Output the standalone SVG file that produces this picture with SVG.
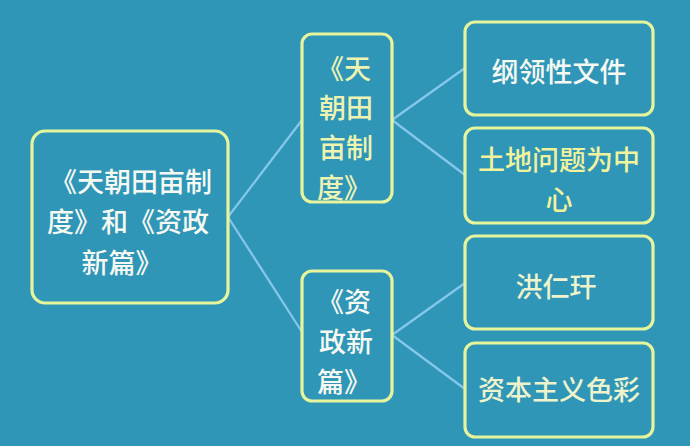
<svg xmlns="http://www.w3.org/2000/svg" width="690" height="446" viewBox="0 0 690 446">
<style>
.box{fill:none;stroke:#E6F49C;stroke-width:3.2}
.edge{stroke:#86C8EC;stroke-width:2.2;fill:none}
text{font-family:"Noto Sans CJK SC","Noto Sans",sans-serif;font-size:27px;font-weight:500;text-anchor:middle;dominant-baseline:central}
.w{fill:#F6F9F2}
.y{fill:#EEF3B2}
.yy{fill:#F1F29C}
.c{fill:#EEF3CC}
</style>
<rect x="0" y="0" width="690" height="446" fill="#2F96B7"/>
<g id="connectors">
<line class="edge" x1="228" y1="217" x2="302" y2="120"/>
<line class="edge" x1="228" y1="217" x2="302" y2="332"/>
<line class="edge" x1="392" y1="120" x2="465" y2="68"/>
<line class="edge" x1="392" y1="120" x2="465" y2="175"/>
<line class="edge" x1="392" y1="335" x2="465" y2="283"/>
<line class="edge" x1="392" y1="335" x2="465" y2="389"/>
</g>
<g id="root">
<rect class="box" x="32" y="131" width="196" height="172" rx="13"/>
<text class="w" x="131" y="180">《天朝田亩制</text>
<text class="w" x="128" y="220">度》和《资政</text>
<text class="w" x="122" y="261">新篇》</text>
</g>
<g id="tianchao">
<rect class="box" x="302" y="34" width="90" height="168" rx="10"/>
<text class="y" x="344" y="67">《天</text>
<text class="y" x="346" y="106">朝田</text>
<text class="y" x="346" y="146">亩制</text>
<text class="y" x="344" y="186">度》</text>
</g>
<g id="zizheng">
<rect class="box" x="302" y="271" width="90" height="130" rx="10"/>
<text class="w" x="344" y="300">《资</text>
<text class="w" x="346" y="340">政新</text>
<text class="w" x="344" y="380">篇》</text>
</g>
<g id="gangling">
<rect class="box" x="465" y="22" width="188" height="93" rx="10"/>
<text class="w" x="559" y="70">纲领性文件</text>
</g>
<g id="tudi">
<rect class="box" x="465" y="128" width="188" height="95" rx="10"/>
<text class="yy" x="559" y="158">土地问题为中</text>
<text class="yy" x="559" y="198">心</text>
</g>
<g id="hongrengan">
<rect class="box" x="465" y="236" width="188" height="93" rx="10"/>
<text class="c" x="556" y="285">洪仁玕</text>
</g>
<g id="ziben">
<rect class="box" x="465" y="343" width="188" height="94" rx="10"/>
<text class="c" x="559" y="388">资本主义色彩</text>
</g>
</svg>
